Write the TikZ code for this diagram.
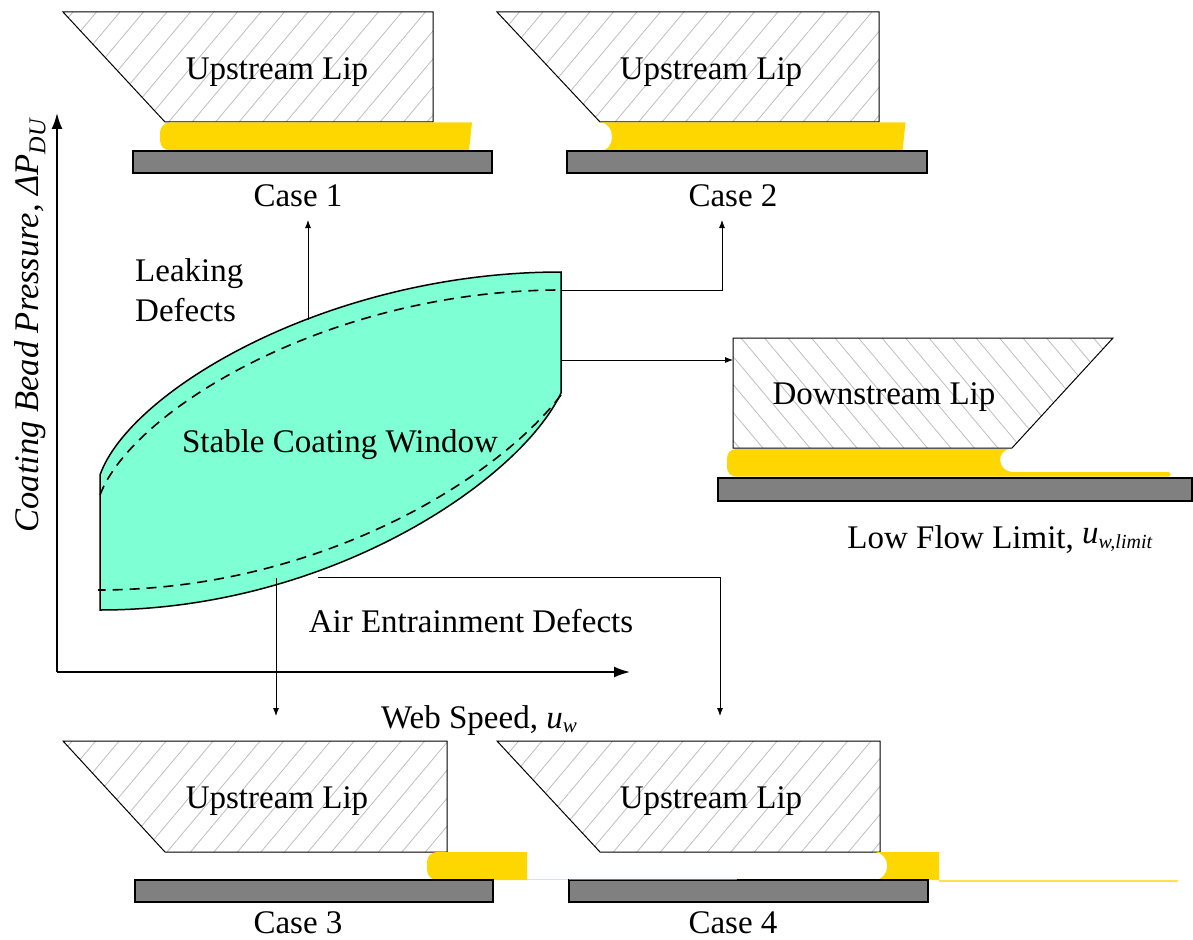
\documentclass[tikz,border=0pt]{standalone}
\usepackage{fontspec}
\setmainfont{Liberation Serif}
\usetikzlibrary{patterns.meta,arrows.meta}
\definecolor{window}{HTML}{7FFFD4}
\definecolor{liquid}{HTML}{FFD700}
\definecolor{web}{HTML}{808080}
\definecolor{hatch}{HTML}{BDBDBD}
\tikzset{
  lbl/.style={font=\fontsize{33}{40}\selectfont, inner sep=0pt, anchor=base},
  lipup/.style={draw=black, line width=1pt,
    pattern={Lines[angle=50,distance=18pt,line width=0.8pt]}, pattern color=hatch},
  lipdown/.style={draw=black, line width=1pt,
    pattern={Lines[angle=-50,distance=18pt,line width=0.8pt]}, pattern color=hatch},
  film/.style={fill=liquid},
  webbar/.style={draw=black, line width=1.2pt, fill=web},
  axis/.style={line width=1.8pt, -{Latex[length=16pt,width=11pt]}},
  link/.style={line width=0.8pt, -{Latex[length=8pt,width=6pt]}},
  bound/.style={draw=black, line width=1.5pt},
  inner/.style={draw=black, line width=1.6pt, dash pattern=on 10pt off 7pt},
}
\begin{document}
\begin{tikzpicture}[x=1pt,y=-1pt]
\useasboundingbox (0,0) rectangle (1193,939);

% ---------- axes ----------
\coordinate (O) at (57,672);
\coordinate (ytip) at (57,113);
\coordinate (xtip) at (630,672);
\draw[axis] (O) -- (ytip);
\draw[axis] (O) -- (xtip);
\node[lbl, anchor=center, rotate=90, font=\fontsize{34.5}{40}\selectfont] (ylab) at (30,325)
  {\textit{Coating Bead Pressure, ΔP}\textsubscript{\textit{DU}}};
\node[lbl] (xlab) at (479,728) {Web Speed, \textit{u}\raisebox{-4pt}{\fontsize{21}{21}\selectfont\textit{w}}};

% ---------- stable operating window ----------
\path[fill=window, bound] (100,475) .. controls (130,390) and (330,272) .. (561,272)
  -- (561,393) .. controls (520,480) and (330,610) .. (100,610) -- cycle;
\draw[inner] (100,495) .. controls (132,410) and (330,290) .. (561,290);
\draw[inner] (561,395) .. controls (498,478) and (320,590) .. (98,590);
\node[lbl] (win) at (340,452) {Stable Coating Window};
\node[lbl, anchor=base west] (leak1) at (135,281) {Leaking};
\node[lbl, anchor=base west] (leak2) at (135,321) {Defects};
\node[lbl] (air) at (471,632) {Air Entrainment Defects};

% ---------- case 1 ----------
\path[lipup] (63,12) -- (433,12) -- (433,122) -- (165,122) -- cycle;
\node[lbl] (up1) at (277,80) {Upstream Lip};
\fill[liquid] (300,122.5) [rounded corners=10] -- (160,122.5) -- (160,150.5)
  [sharp corners] -- (469,150.5) -- (472,122.5) -- cycle;
\path[webbar] (133,151) rectangle (492,173);
\node[lbl] (case1) at (298,206) {Case 1};

% ---------- case 2 ----------
\path[lipup] (497,12) -- (879,12) -- (879,122) -- (600,122) -- cycle;
\node[lbl] (up2) at (711,80) {Upstream Lip};
\fill[liquid] (600,122.5) -- (905.5,122.5) -- (902.5,151) -- (600,151)
  .. controls (616,151) and (616,122.5) .. (600,122.5) -- cycle;
\path[webbar] (567,151) rectangle (927,173);
\node[lbl] (case2) at (733,206) {Case 2};

% ---------- downstream lip, low flow limit ----------
\path[lipdown] (733,338) -- (1113,338) -- (1012,448) -- (733,448) -- cycle;
\node[lbl] (down) at (884,404) {Downstream Lip};
\fill[liquid] (800,449) [rounded corners=9] -- (727,449) -- (727,476.7)
  [sharp corners] -- (1168,476.7) .. controls (1171.5,476.7) and (1171.5,472) .. (1168,472)
  -- (1014,472) .. controls (996,472) and (996,449) .. (1011,449) -- cycle;
\path[webbar] (718,478) rectangle (1192,501);
\node[lbl] (low) at (1000,548)
  {Low Flow Limit, \raisebox{5pt}{\textit{u}}{\fontsize{20}{20}\selectfont\textit{w,limit}}};

% ---------- case 3 ----------
\path[lipup] (63,741) -- (447,741) -- (447,852) -- (165,852) -- cycle;
\node[lbl] (up3) at (277,808) {Upstream Lip};
\fill[liquid] (480,852) [rounded corners=10] -- (427,852) -- (427,880)
  [sharp corners] -- (527,880) -- (527,852) -- cycle;
\path[webbar] (135,880) rectangle (493,902);
\draw[liquid, line width=1.5pt, opacity=0.6] (527,879.5) -- (737,879.5);
\node[lbl] (case3) at (298,933) {Case 3};

% ---------- case 4 ----------
\path[lipup] (497,741) -- (880,741) -- (880,852) -- (600,852) -- cycle;
\node[lbl] (up4) at (711,808) {Upstream Lip};
\fill[liquid] (873,852) -- (939,852) -- (939,880) -- (873,880)
  .. controls (892,880) and (892,852) .. (873,852) -- cycle;
\path[webbar] (569,880) rectangle (928,902);
\draw[liquid, line width=1.5pt, opacity=0.6] (569,879.5) -- (737,879.5);
\draw[liquid!70, line width=2pt] (939,880.5) -- (1178,880.5);
\node[lbl] (case4) at (733,933) {Case 4};

% ---------- connectors ----------
\coordinate (c1s) at (308,320);  \coordinate (c1e) at (308,220);
\coordinate (c2s) at (561,290);  \coordinate (c2m) at (722,290);
\coordinate (c2e) at (722,220);
\coordinate (dls) at (561,360);  \coordinate (dle) at (733,360);
\coordinate (c3s) at (276,578);  \coordinate (c3e) at (276,716);
\coordinate (c4s) at (318,577);  \coordinate (c4m) at (720,577);
\coordinate (c4e) at (720,716);
\draw[link] (c1s) -- (c1e);
\draw[link] (c2s) -- (c2m) -- (c2e);
\draw[link] (dls) -- (dle);
\draw[link] (c3s) -- (c3e);
\draw[link] (c4s) -- (c4m) -- (c4e);
\end{tikzpicture}
\end{document}
